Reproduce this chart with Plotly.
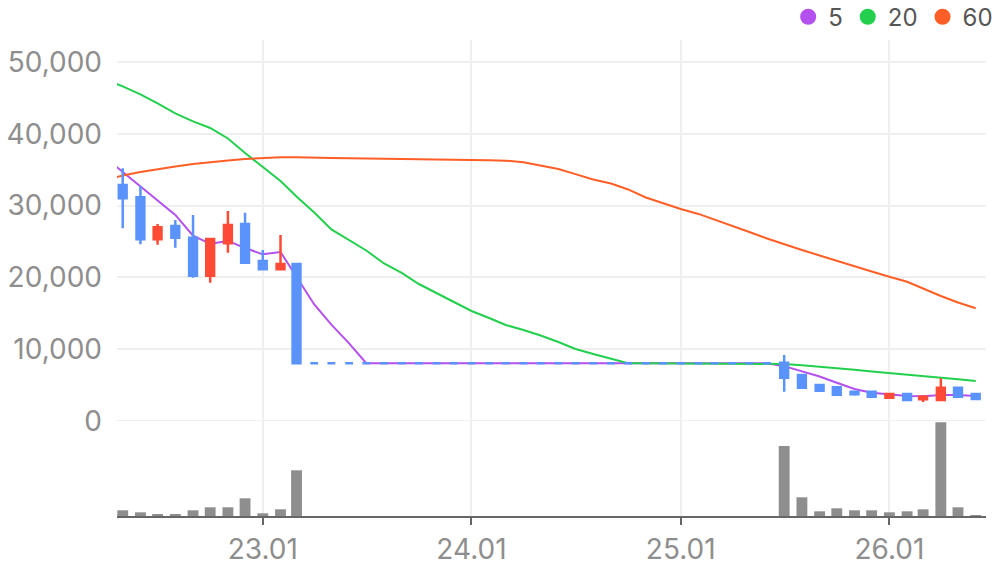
import plotly.graph_objects as go
import pandas as pd

# ---------------- data ----------------
# monthly candles, May 2022 .. Jun 2026 (50 months)
candle_months = pd.date_range("2022-05-01", "2026-06-01", freq="MS")
# moving-average points, Apr 2022 .. Jun 2026 (51 months)
ma_months = pd.date_range("2022-04-01", "2026-06-01", freq="MS")

open_ = [32870, 31160, 25310, 27160, 25530, 20240, 24750, 27440, 22290, 21130, 21870,
         8040, 8040, 8040, 8040, 8040, 8040, 8040, 8040, 8040, 8040, 8040, 8040, 8040, 8040,
         8040, 8040, 8040, 8040, 8040, 8040, 8040, 8040, 8040, 8040, 8040, 8040, 8040,
         8100, 6410, 5010, 4690, 4090, 4090, 3250, 3760, 3020, 2930, 4640, 3760]
high = [35200, 32740, 27440, 28000, 28700, 25450, 29250, 29020, 23820, 25910, 21870,
        8040, 8040, 8040, 8040, 8040, 8040, 8040, 8040, 8040, 8040, 8040, 8040, 8040, 8040,
        8040, 8040, 8040, 8040, 8040, 8040, 8040, 8040, 8040, 8040, 8040, 8040, 8040,
        9190, 6550, 5150, 4830, 4230, 4180, 3760, 3760, 3620, 5950, 4640, 3760]
low = [26840, 24610, 24560, 24140, 19960, 19260, 23450, 22050, 21130, 21130, 8040,
       8040, 8040, 8040, 8040, 8040, 8040, 8040, 8040, 8040, 8040, 8040, 8040, 8040, 8040,
       8040, 8040, 8040, 8040, 8040, 8040, 8040, 8040, 8040, 8040, 8040, 8040, 8040,
       4090, 4640, 4230, 3670, 3520, 3390, 3250, 2930, 2650, 2930, 3390, 3060]
close = [31020, 25310, 26980, 25530, 20240, 25350, 27300, 22050, 21130, 21870, 8040,
         8040, 8040, 8040, 8040, 8040, 8040, 8040, 8040, 8040, 8040, 8040, 8040, 8040, 8040,
         8040, 8040, 8040, 8040, 8040, 8040, 8040, 8040, 8040, 8040, 8040, 8040, 8040,
         6040, 4640, 4230, 3670, 3720, 3390, 3760, 2930, 3390, 4640, 3390, 3060]
volume = [570000, 370000, 170000, 170000, 570000, 870000, 870000, 1770000, 270000, 670000, 4570000,
          0, 0, 0, 0, 0, 0, 0, 0, 0, 0, 0, 0, 0, 0, 0, 0, 0, 0, 0, 0, 0, 0, 0, 0, 0, 0, 0,
          7000000, 1870000, 470000, 770000, 570000, 570000, 370000, 470000, 670000, 9370000, 870000, 70000]

ma5 = [36640, 34690, 32670, 30720, 28700, 25820, 24680, 25080, 24090, 23210, 23540, 20080,
       16230, 13420, 10810,
       8040, 8040, 8040, 8040, 8040, 8040, 8040, 8040, 8040, 8040, 8040, 8040,
       8040, 8040, 8040, 8040, 8040, 8040, 8040, 8040, 8040, 8040, 8040, 8040,
       7640, 6960, 6200, 5320, 4460, 3930, 3750, 3490, 3440, 3620, 3620, 3480]
ma20 = [47560, 46600, 45480, 44250, 42830, 41720, 40810, 39350, 37330, 35380, 33430, 31270,
        29040, 26680, 25140, 23750, 21940, 20620, 19080, 17830, 16510, 15320, 14350, 13370,
        12680, 11910, 11000, 10030, 9330, 8640,
        8040, 8040, 8040, 8040, 8040, 8040, 8040, 8040, 8040,
        7940, 7770, 7580, 7360, 7150, 6910, 6700, 6440, 6210, 6040, 5810, 5560]
ma60 = [33570, 34200, 34690, 35100, 35450, 35800, 36080, 36290, 36500,
        36640, 36730, 36730, 36730, 36640, 36590, 36570, 36540, 36500, 36500, 36450, 36410,
        36360, 36310, 36260, 36040, 35590, 35100, 34380, 33640, 33070, 32250, 31130, 30300,
        29530, 28840, 28070, 27160, 26330, 25420, 24590, 23820, 23050, 22290, 21520, 20830,
        20100, 19400, 18460, 17410, 16510, 15700]

ma_names = ["5", "20", "60"]
x_tick_vals = ["2023-01-01", "2024-01-01", "2025-01-01", "2026-01-01"]
x_tick_text = ["23.01", "24.01", "25.01", "26.01"]
y_tick_vals = [0, 10000, 20000, 30000, 40000, 50000]
y_tick_text = ["0", "10,000", "20,000", "30,000", "40,000", "50,000"]

# ---------------- style ----------------
RED = "#ff4b36"
BLUE = "#5b93fd"
GRAY = "#8e8e8e"
MA_COLORS = ["#b450f0", "#22d04e", "#ff5f26"]
FONT = "Inter"
PRICE_RANGE = [-13231, 53064]

fig = go.Figure()

fig.add_trace(go.Bar(
    x=candle_months, y=volume, yaxis="y2", marker=dict(color=GRAY, line=dict(width=0)),
    width=19 * 86400000, showlegend=False, hoverinfo="skip"))

for vals, col in zip([ma5, ma20, ma60], MA_COLORS):
    fig.add_trace(go.Scatter(x=ma_months, y=vals, mode="lines", yaxis="y",
                             line=dict(color=col, width=2), showlegend=False, hoverinfo="skip"))

fig.add_trace(go.Candlestick(
    x=candle_months, open=open_, high=high, low=low, close=close, yaxis="y3",
    increasing=dict(line=dict(color=RED, width=2.5), fillcolor=RED),
    decreasing=dict(line=dict(color=BLUE, width=2.5), fillcolor=BLUE),
    whiskerwidth=0, showlegend=False, hoverinfo="skip"))

for name, col in zip(ma_names, MA_COLORS):
    fig.add_trace(go.Scatter(x=[None], y=[None], mode="markers", name=name,
                             marker=dict(color=col, size=16, symbol="circle")))

fig.update_layout(
    width=996, height=567,
    margin=dict(l=117, r=10, t=40, b=51, pad=0, autoexpand=False),
    paper_bgcolor="white", plot_bgcolor="white",
    font=dict(family=FONT, color=GRAY),
    boxgap=0.3,
    hovermode=False,
    showlegend=True,
    legend=dict(orientation="h", x=1.014, xanchor="right", y=1.048, yanchor="middle",
                font=dict(size=24, color="#555555", family=FONT),
                bgcolor="rgba(0,0,0,0)", itemclick=False, itemdoubleclick=False,
                tracegroupgap=0, itemwidth=30),
    xaxis=dict(type="date", range=["2022-04-21", "2026-06-19"],
               tickvals=x_tick_vals, ticktext=x_tick_text,
               showgrid=True, gridcolor="#efefef", gridwidth=2,
               showline=True, linecolor="#666666", linewidth=2,
               ticks="outside", ticklen=7, tickwidth=2, tickcolor="#666666",
               tickfont=dict(size=28, color=GRAY, family=FONT),
               rangeslider=dict(visible=False), zeroline=False, anchor="y",
               automargin=False),
    yaxis=dict(domain=[0, 1], range=PRICE_RANGE, tickvals=y_tick_vals, ticktext=y_tick_text,
               showgrid=True, gridcolor="#efefef", gridwidth=2, zeroline=False,
               showline=False, ticks="", tickfont=dict(size=28, color=GRAY, family=FONT),
               ticklabelstandoff=14, automargin=False),
    yaxis2=dict(domain=[0, 95 / 476], range=[0, 9500000], visible=False,
                showgrid=False, zeroline=False),
    yaxis3=dict(overlaying="y", range=PRICE_RANGE, visible=False,
                showgrid=False, zeroline=False),
)

fig.write_html("out.html")
